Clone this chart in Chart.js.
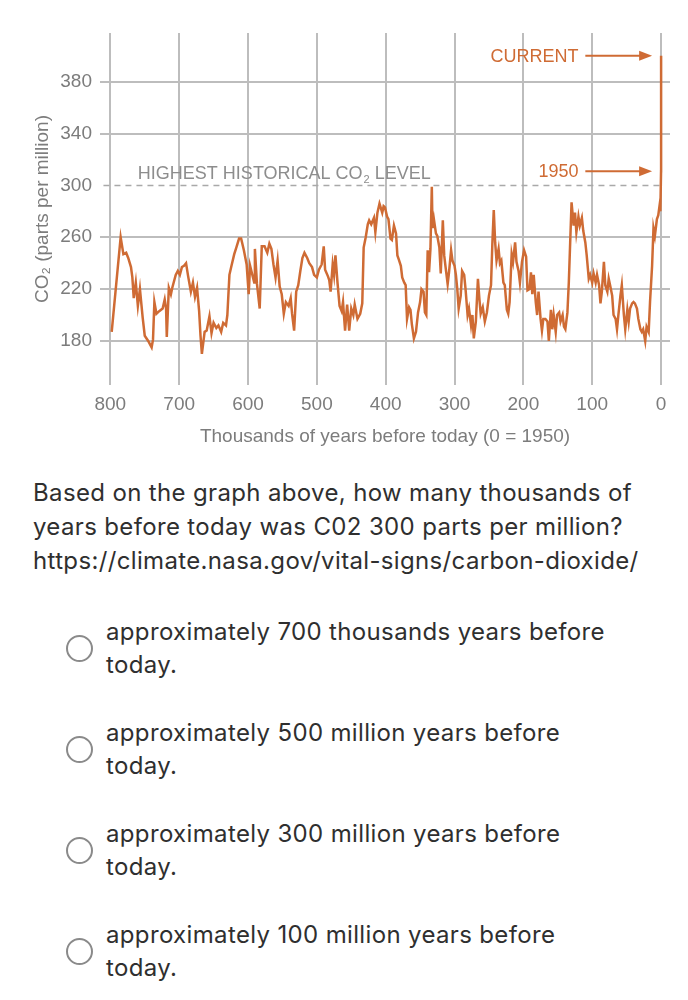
<!DOCTYPE html>
<html>
<head>
<meta charset="utf-8">
<script src="https://cdn.jsdelivr.net/npm/chart.js"></script>
<style>
  body { margin: 0; background: #fff; font-family: Inter, "Liberation Sans", Arial, sans-serif; color: #2f2f2f; }
  .chart-box { position: relative; width: 688px; height: 460px; }
  .question { margin: 16px 0 0 33px; font-size: 24px; line-height: 34px; letter-spacing: 0.35px; white-space: nowrap; }
  .options { margin-top: 37px; }
  .opt { display: flex; align-items: center; height: 66px; margin-bottom: 35px; }
  .radio { width: 23px; height: 23px; border: 2.5px solid #8a8a8a; border-radius: 50%; margin-left: 66px; margin-right: 13px; flex: none; }
  .opt span { font-size: 24px; line-height: 33px; letter-spacing: 0.35px; white-space: nowrap; }
</style>
</head>
<body>
<div class="chart-box"><canvas id="grafico_co2"></canvas></div>
<div class="question">Based on the graph above, how many thousands of<br>years before today was C02 300 parts per million?<br>https://climate.nasa.gov/vital-signs/carbon-dioxide/</div>
<div class="options">
  <div class="opt"><div class="radio"></div><span>approximately 700 thousands years before<br>today.</span></div>
  <div class="opt"><div class="radio"></div><span>approximately 500 million years before<br>today.</span></div>
  <div class="opt"><div class="radio"></div><span>approximately 300 million years before<br>today.</span></div>
  <div class="opt"><div class="radio"></div><span>approximately 100 million years before<br>today.</span></div>
</div>
<script>
// thousands of years before 1950
const kyrBP = [
  798, 785, 781, 777, 774, 770, 768, 766, 763, 760, 757, 753, 750, 745, 740, 738, 736, 733, 729, 724,
  721, 719, 718, 715, 712, 710, 705, 702, 699, 696, 693, 690, 687, 683, 680, 677, 674, 671, 669, 667,
  663, 660, 656, 653, 650, 646, 643, 639, 636, 632, 630, 627, 624, 620, 617, 613, 610, 606, 602, 599,
  597, 591, 590, 587, 583, 580, 576, 572, 569, 566, 563, 560, 557, 554, 551, 548, 545, 541, 538, 536,
  533, 530, 527, 524, 521, 518, 514, 511, 507, 504, 500, 497, 493, 490, 488, 484, 482, 480, 477, 475,
  473, 470, 467, 464, 462, 459, 456, 453, 450, 447, 445, 441, 437, 434, 432, 429, 426, 424, 421, 417,
  415, 412, 409, 405, 403, 401, 398, 396, 393, 391, 388, 385, 383, 381, 378, 376, 373, 371, 369, 366,
  364, 362, 359, 356, 353, 350, 348, 345, 343, 341, 339, 337, 335, 333, 332, 330, 327, 325, 322, 320,
  317, 315, 313, 310, 308, 305, 303, 300, 298, 296, 294, 291, 289, 286, 284, 281, 279, 276, 274, 272,
  269, 266, 264, 262, 259, 256, 253, 250, 247, 245, 243, 241, 239, 236, 234, 232, 229, 227, 224, 222,
  220, 217, 215, 212, 210, 207, 205, 202, 199, 196, 194, 191, 189, 187, 185, 182, 180, 178, 175, 173,
  171, 168, 165, 163, 160, 158, 156, 153, 151, 148, 146, 143, 141, 139, 136, 134, 132, 130, 127, 125,
  123, 120, 118, 115, 113, 110, 108, 105, 103, 100, 98, 95, 93, 90, 88, 86, 83, 81, 78, 76,
  74, 71, 69, 66, 64, 62, 59, 57, 54, 52, 49, 47, 45, 42, 40, 38, 35, 33, 30, 28,
  26, 23, 21, 18, 16, 13, 11, 9, 6, 4, 2, 1, 0, -0.07
];
const co2ppm = [
  187, 260, 247, 248, 244, 237, 229, 213, 225, 207, 220, 198, 184, 180, 175, 181, 210, 201, 203, 205,
  212, 205, 183, 221, 216, 221, 231, 234, 231, 237, 238, 240, 230, 218, 225, 214, 221, 203, 184, 170,
  187, 188, 199, 186, 194, 190, 192, 187, 194, 192, 200, 231, 238, 247, 252, 259, 259, 250, 239, 216,
  238, 225, 251, 224, 205, 253, 253, 248, 255, 251, 239, 229, 242, 222, 216, 201, 210, 207, 213, 201,
  188, 218, 223, 234, 244, 248, 244, 240, 237, 231, 229, 235, 239, 253, 235, 230, 227, 218, 239, 231,
  246, 225, 207, 203, 210, 188, 208, 188, 205, 200, 208, 197, 201, 209, 252, 260, 270, 273, 270, 275,
  264, 279, 286, 279, 284, 283, 276, 274, 259, 258, 269, 263, 246, 243, 238, 229, 225, 223, 197, 206,
  204, 193, 182, 187, 202, 210, 220, 218, 202, 200, 250, 233, 251, 299, 267, 274, 263, 261, 252, 232,
  273, 246, 237, 224, 233, 250, 242, 238, 231, 220, 205, 215, 234, 231, 220, 200, 205, 192, 200, 182,
  195, 228, 213, 201, 206, 195, 202, 215, 223, 256, 281, 256, 242, 251, 240, 242, 225, 223, 204, 201,
  210, 247, 241, 256, 241, 234, 225, 241, 250, 245, 219, 220, 233, 216, 231, 210, 200, 218, 197, 188,
  197, 197, 195, 180, 204, 189, 200, 187, 200, 202, 195, 200, 191, 189, 202, 225, 256, 287, 269, 279,
  264, 276, 269, 275, 265, 256, 246, 228, 231, 225, 232, 225, 231, 223, 209, 218, 241, 223, 218, 228,
  223, 215, 200, 197, 189, 200, 215, 223, 200, 189, 204, 195, 205, 209, 210, 209, 205, 197, 189, 187,
  189, 180, 191, 187, 210, 238, 267, 261, 274, 277, 285, 280, 311, 400
];

const xTicks = [0, 100, 200, 300, 400, 500, 600, 700, 800];
const yTicks = [180, 220, 260, 300, 340, 380];
const highestLevel = 300;
const level1950 = 311;
const levelCurrent = 400;

const orange = '#cf6b34';
const gridGray = '#bdbdbd';
const textGray = '#7c7c7c';
const fontFamily = '"Liberation Sans", Arial, sans-serif';

const co2Points = kyrBP.map((k, i) => ({ x: k, y: co2ppm[i] }));

function drawArrow(ctx, x0, x1, y) {
  ctx.beginPath();
  ctx.moveTo(x0, y);
  ctx.lineTo(x1 - 10, y);
  ctx.stroke();
  ctx.beginPath();
  ctx.moveTo(x1, y);
  ctx.lineTo(x1 - 13, y - 5);
  ctx.lineTo(x1 - 13, y + 5);
  ctx.closePath();
  ctx.fill();
}

const notas = {
  id: 'notas',
  afterDatasetsDraw(chart) {
    const { ctx, scales: { x, y } } = chart;
    ctx.save();
    // highest historical level label, CO with subscript 2
    ctx.fillStyle = '#8d8d8d';
    ctx.textBaseline = 'alphabetic';
    ctx.textAlign = 'left';
    let px = x.getPixelForValue(760);
    const py = y.getPixelForValue(highestLevel) - 6;
    ctx.font = '18px ' + fontFamily;
    ctx.fillText('HIGHEST HISTORICAL CO', px, py);
    px += ctx.measureText('HIGHEST HISTORICAL CO').width + 1;
    ctx.font = '11px ' + fontFamily;
    ctx.fillText('2', px, py + 4);
    px += ctx.measureText('2').width;
    ctx.font = '18px ' + fontFamily;
    ctx.fillText(' LEVEL', px, py);

    // current and 1950 arrows
    ctx.fillStyle = orange;
    ctx.strokeStyle = orange;
    ctx.lineWidth = 2;
    ctx.textAlign = 'right';
    ctx.textBaseline = 'middle';
    const labels = [['CURRENT', levelCurrent], ['1950', level1950]];
    labels.forEach(([txt, v]) => {
      const ly = y.getPixelForValue(v);
      ctx.fillText(txt, x.getPixelForValue(120), ly + 1);
      drawArrow(ctx, x.getPixelForValue(110), x.getPixelForValue(13), ly);
    });
    ctx.restore();
  }
};

const ctx = document.getElementById('grafico_co2').getContext('2d');
const grafico = new Chart(ctx, {
  type: 'line',
  data: {
    datasets: [{
      label: 'CO2',
      data: co2Points,
      borderColor: orange,
      borderWidth: 2.5,
      pointRadius: 0,
      tension: 0,
      fill: false
    }, {
      label: 'Highest historical',
      data: [{ x: 810, y: highestLevel }, { x: -3, y: highestLevel }],
      borderColor: '#a9a9a9',
      borderWidth: 1.5,
      borderDash: [6, 5],
      pointRadius: 0
    }]
  },
  options: {
    responsive: true,
    maintainAspectRatio: false,
    animation: false,
    layout: { padding: { top: 33, right: 18, left: 0, bottom: 0 } },
    plugins: {
      legend: { display: false },
      tooltip: { enabled: false }
    },
    scales: {
      x: {
        type: 'linear',
        reverse: true,
        min: -13,
        max: 815,
        afterBuildTicks: (axis) => { axis.ticks = xTicks.map(v => ({ value: v })); },
        afterFit: (axis) => { axis.height = 75; },
        ticks: { color: textGray, font: { size: 19, family: fontFamily }, padding: 8, maxRotation: 0, autoSkip: false },
        grid: { color: gridGray, lineWidth: 2, drawTicks: false },
        border: { display: false },
        title: {
          display: true,
          text: 'Thousands of years before today (0 = 1950)',
          color: textGray,
          font: { size: 19, family: fontFamily },
          padding: { top: 0, bottom: 12 }
        }
      },
      y: {
        min: 146,
        max: 417.6,
        afterBuildTicks: (axis) => { axis.ticks = yTicks.map(v => ({ value: v })); },
        afterFit: (axis) => { axis.width = 100; },
        ticks: { color: textGray, font: { size: 19, family: fontFamily }, padding: 8 },
        grid: {
          color: (c) => (c.tick && c.tick.value === highestLevel ? 'rgba(0,0,0,0)' : gridGray),
          lineWidth: 2,
          drawTicks: false
        },
        border: { display: false },
        title: {
          display: true,
          text: 'CO₂ (parts per million)',
          color: textGray,
          font: { size: 19, family: fontFamily },
          padding: { top: 31, bottom: 0 }
        }
      }
    }
  },
  plugins: [notas]
});
</script>
</body>
</html>
